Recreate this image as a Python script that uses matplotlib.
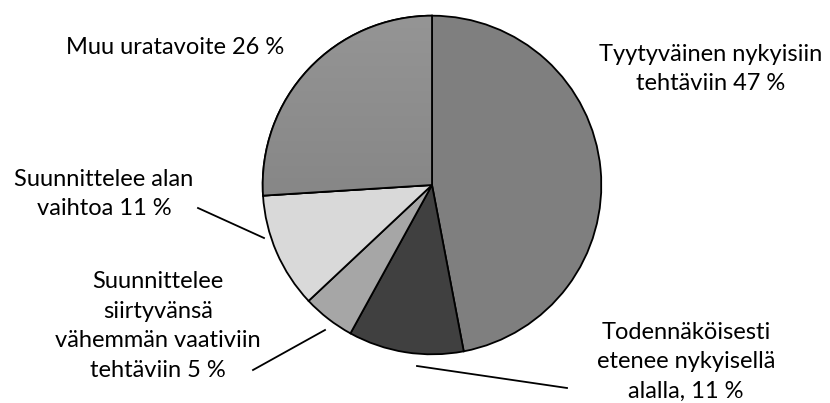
import matplotlib
matplotlib.use("Agg")
import matplotlib.pyplot as plt
import numpy as np
from matplotlib.colors import LinearSegmentedColormap
from matplotlib.patches import Wedge

labels = ["Tyytyväinen nykyisiin\ntehtäviin 47 %",
          "Todennäköisesti\netenee nykyisellä\nalalla, 11 %",
          "Suunnittelee\nsiirtyvänsä\nvähemmän vaativiin\ntehtäviin 5 %",
          "Suunnittelee alan\nvaihtoa 11 %",
          "Muu uratavoite 26 %"]
values = [47, 11, 5, 11, 26]
colors = ["#7f7f7f", "#404040", "#a6a6a6", "#d9d9d9", "#8a8a8a"]

W, H = 830, 403
fig = plt.figure(figsize=(W / 100, H / 100), dpi=100)
plt.rcParams['font.family'] = ['Lato', 'DejaVu Sans']

cx, cy, r = 432, 185, 171
ax = fig.add_axes([(cx - r) / W, (H - cy - r) / H, 2 * r / W, 2 * r / H])
ax.axis("off")

wedges, _ = ax.pie(values, colors=colors, startangle=90, counterclock=False,
                   radius=1.0, wedgeprops=dict(edgecolor="black", linewidth=1.3))

# gradient for the last slice
grad = np.linspace(0, 1, 256).reshape(-1, 1)
cmap = LinearSegmentedColormap.from_list("g", ["#7a7a7a", "#959595"])
im = ax.imshow(grad, extent=[-1, 1, -1, 1], origin="lower", cmap=cmap,
               aspect="auto", zorder=wedges[4].get_zorder() + 0.1)
im.set_clip_path(wedges[4])
w = wedges[4]
edge = Wedge(w.center, w.r, w.theta1, w.theta2, facecolor="none",
             edgecolor="black", linewidth=1.3, zorder=im.get_zorder() + 0.1)
ax.add_patch(edge)
ax.set_xlim(-1.01, 1.01)
ax.set_ylim(-1.01, 1.01)


def px(x, y):
    return x / W, 1 - y / H


fs = 17
pos = [(711, 69), (686, 362), (158, 326), (104, 194), (175, 47)]
for lab, (x, y) in zip(labels, pos):
    fig.text(*px(x, y), lab, ha="center", va="center", fontsize=fs,
             linespacing=1.5, color="black")

lines = [((417, 366), (567, 388)), ((253, 370), (325, 330)), ((198, 208), (264, 238))]
for (x0, y0), (x1, y1) in lines:
    fig.add_artist(plt.Line2D([x0 / W, x1 / W], [1 - y0 / H, 1 - y1 / H],
                              color="black", linewidth=1.3,
                              transform=fig.transFigure))

fig.savefig("out.png", dpi=100)
